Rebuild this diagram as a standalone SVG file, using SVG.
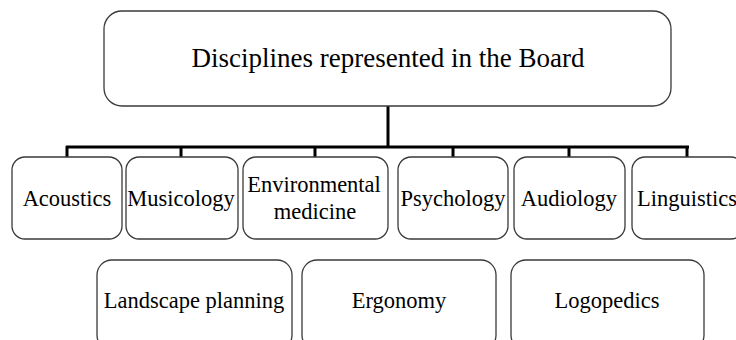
<svg xmlns="http://www.w3.org/2000/svg" width="736" height="340" viewBox="0 0 736 340">
<style>
.box{fill:#fff;stroke:#3a3a3a;stroke-width:1.3}
.t{font-family:"Liberation Serif","Times New Roman",serif;font-size:22.5px;fill:#000;text-anchor:middle}
.title{font-size:27px}
.conn{stroke:#000;stroke-width:3;fill:none}
</style>
<rect width="736" height="340" fill="#fff"/>
<g id="connectors">
<path class="conn" d="M388,106V147M66,147H689M67,146V157M181,146V157M315,146V157M453,146V157M569,146V157M687,146V157"/>
</g>
<g id="root"><rect class="box" x="104" y="11" width="567" height="95" rx="18"/><text class="t title" x="388" y="67">Disciplines represented in the Board</text></g>
<g id="acoustics"><rect class="box" x="12" y="157" width="110" height="82" rx="13"/><text class="t" x="67" y="206">Acoustics</text></g>
<g id="musicology"><rect class="box" x="126" y="157" width="112" height="82" rx="13"/><text class="t" x="181" y="206">Musicology</text></g>
<g id="envmed"><rect class="box" x="243" y="157" width="145" height="82" rx="13"/><text class="t" x="314" y="192">Environmental</text><text class="t" x="315" y="219">medicine</text></g>
<g id="psychology"><rect class="box" x="398" y="157" width="110" height="82" rx="13"/><text class="t" x="453" y="206">Psychology</text></g>
<g id="audiology"><rect class="box" x="514" y="157" width="111" height="82" rx="13"/><text class="t" x="569" y="206">Audiology</text></g>
<g id="linguistics"><rect class="box" x="632" y="157" width="112" height="82" rx="13"/><text class="t" x="687" y="206">Linguistics</text></g>
<g id="landscape"><rect class="box" x="97" y="260" width="195" height="90" rx="15"/><text class="t" x="194" y="308">Landscape planning</text></g>
<g id="ergonomy"><rect class="box" x="302" y="260" width="194" height="90" rx="15"/><text class="t" x="399" y="308">Ergonomy</text></g>
<g id="logopedics"><rect class="box" x="511" y="260" width="193" height="90" rx="15"/><text class="t" x="607" y="308">Logopedics</text></g>
</svg>
